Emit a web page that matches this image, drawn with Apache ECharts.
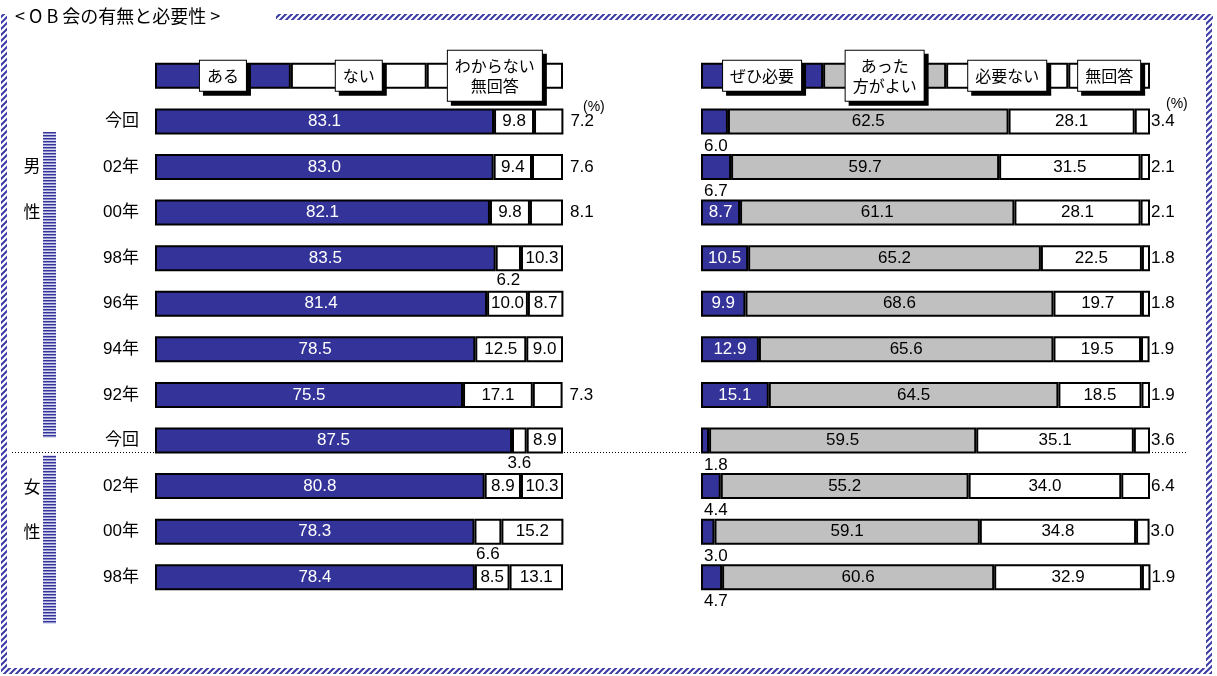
<!DOCTYPE html>
<html>
<head>
<meta charset="utf-8">
<script src="https://cdn.jsdelivr.net/npm/echarts@6/dist/echarts.min.js"></script>
<style>
html, body { margin: 0; padding: 0; background: #fff; }
#main { width: 1217px; height: 676px; }
</style>
</head>
<body>
<div id="main"></div>
<script>
// 行ラベル（先頭の空欄は凡例の行）
var rows = ['', '今回', '02年', '00年', '98年', '96年', '94年', '92年', '今回', '02年', '00年', '98年'];

// OB会の有無（左）
var aru       = [83.1, 83.0, 82.1, 83.5, 81.4, 78.5, 75.5, 87.5, 80.8, 78.3, 78.4];
var nai       = [9.8, 9.4, 9.8, 6.2, 10.0, 12.5, 17.1, 3.6, 8.9, 6.6, 8.5];
var wakaranai = [7.2, 7.6, 8.1, 10.3, 8.7, 9.0, 7.3, 8.9, 10.3, 15.2, 13.1];

// 必要性（右）
var zehi       = [6.0, 6.7, 8.7, 10.5, 9.9, 12.9, 15.1, 1.8, 4.4, 3.0, 4.7];
var attaho     = [62.5, 59.7, 61.1, 65.2, 68.6, 65.6, 64.5, 59.5, 55.2, 59.1, 60.6];
var hitsuyonai = [28.1, 31.5, 28.1, 22.5, 19.7, 19.5, 18.5, 35.1, 34.0, 34.8, 32.9];
var mukaito    = [3.4, 2.1, 2.1, 1.8, 1.8, 1.9, 1.9, 3.6, 6.4, 3.0, 1.9];

// 凡例
var legendL = ['ある', 'ない', 'わからない\n無回答'];
var legendLShare = [33.3, 33.3, 33.4];
var legendR = ['ぜひ必要', 'あった\n方がよい', '必要ない', '無回答'];
var legendRShare = [27.2, 27.4, 27.2, 18.2];

var CJK = '"Noto Sans CJK JP", sans-serif';
var NUM = '"Liberation Sans", Arial, "Noto Sans CJK JP", sans-serif';
var BLUE = '#333399', GRAY = '#c0c0c0';

function hatch() {
    var c = document.createElement('canvas');
    c.width = 6; c.height = 6;
    var g = c.getContext('2d');
    g.fillStyle = '#fff'; g.fillRect(0, 0, 6, 6);
    g.strokeStyle = '#3a3aa6'; g.lineWidth = 2;
    g.beginPath();
    g.moveTo(-1, 7); g.lineTo(7, -1);
    g.moveTo(-1, 1); g.lineTo(1, -1);
    g.moveTo(5, 7); g.lineTo(7, 5);
    g.stroke();
    return c;
}
function stripes() {
    var c = document.createElement('canvas');
    c.width = 4; c.height = 3;
    var g = c.getContext('2d');
    g.fillStyle = BLUE; g.fillRect(0, 0, 4, 1);
    g.fillStyle = '#8c8cc8'; g.fillRect(0, 1, 4, 1);
    g.fillStyle = '#dcdcf0'; g.fillRect(0, 2, 4, 1);
    return c;
}

function buildSeries(gi, parts, colors, textColors, names, shares, rightGap) {
    return parts.map(function (vals, k) {
        var last = k === parts.length - 1;
        var data = [{
            value: shares[k],
            label: {
                show: true, position: 'inside', formatter: names[k],
                color: '#000', fontFamily: CJK, fontSize: 16, lineHeight: 20,
                backgroundColor: '#fff', borderColor: '#000', borderWidth: 1,
                padding: [5, 7], shadowColor: '#000', shadowBlur: 0,
                shadowOffsetX: 4, shadowOffsetY: 4
            }
        }].concat(vals.map(function (v) {
            var lab = { show: true, color: textColors[k] };
            if (v < 8.3) {
                lab.color = '#000';
                if (last) { lab.position = 'right'; lab.distance = rightGap; }
                else if (k === 0) { lab.position = [3, '100%']; lab.align = 'left'; lab.verticalAlign = 'top'; lab.offset = [0, 3]; }
                else { lab.position = 'bottom'; lab.distance = 1; }
            } else {
                lab.position = 'inside';
            }
            return { value: v, label: lab };
        }));
        return {
            type: 'bar', stack: 's' + gi, xAxisIndex: gi, yAxisIndex: gi,
            barWidth: 26, clip: false,
            itemStyle: { color: colors[k], borderColor: '#000', borderWidth: 2 },
            label: {
                fontFamily: NUM, fontSize: 17,
                formatter: function (p) { return Number(p.value).toFixed(1); }
            },
            emphasis: { disabled: true },
            data: data
        };
    });
}

var myChart = echarts.init(document.getElementById('main'));
var hatchImg = hatch(), stripeImg = stripes();

var option = {
    animation: false,
    grid: [
        { left: 155, width: 408, top: 53, height: 547 },
        { left: 701, width: 449, top: 53, height: 547 }
    ],
    xAxis: [
        { gridIndex: 0, type: 'value', min: 0, max: 100, show: false },
        { gridIndex: 1, type: 'value', min: 0, max: 100, show: false }
    ],
    yAxis: [
        {
            gridIndex: 0, type: 'category', inverse: true, data: rows,
            axisLine: { show: false }, axisTick: { show: false },
            axisLabel: { margin: 16, color: '#000', fontSize: 17, fontFamily: NUM }
        },
        {
            gridIndex: 1, type: 'category', inverse: true, data: rows,
            axisLine: { show: false }, axisTick: { show: false }, axisLabel: { show: false }
        }
    ],
    graphic: [
        // 枠
        { type: 'rect', silent: true, shape: { x: 276, y: 14, width: 937, height: 6 }, style: { fill: { image: hatchImg, repeat: 'repeat' } } },
        { type: 'rect', silent: true, shape: { x: 1, y: 14, width: 6, height: 660 }, style: { fill: { image: hatchImg, repeat: 'repeat' } } },
        { type: 'rect', silent: true, shape: { x: 1206, y: 14, width: 6, height: 660 }, style: { fill: { image: hatchImg, repeat: 'repeat' } } },
        { type: 'rect', silent: true, shape: { x: 1, y: 668, width: 1211, height: 6 }, style: { fill: { image: hatchImg, repeat: 'repeat' } } },
        // タイトル
        { type: 'text', silent: true, style: { text: '< O B 会の有無と必要性 >', x: 15, y: 16, verticalAlign: 'middle', font: '18px "Noto Sans CJK JP"', fill: '#000' } },
        // 単位
        { type: 'text', silent: true, style: { text: '(%)', x: 583, y: 107, verticalAlign: 'middle', font: '14px "Liberation Sans"', fill: '#000' } },
        { type: 'text', silent: true, style: { text: '(%)', x: 1166, y: 104, verticalAlign: 'middle', font: '14px "Liberation Sans"', fill: '#000' } },
        // 男性・女性
        { type: 'rect', silent: true, shape: { x: 43, y: 132, width: 13, height: 306 }, style: { fill: { image: stripeImg, repeat: 'repeat' } } },
        { type: 'rect', silent: true, shape: { x: 43, y: 455, width: 13, height: 169 }, style: { fill: { image: stripeImg, repeat: 'repeat' } } },
        { type: 'text', silent: true, style: { text: '男', x: 32, y: 166, align: 'center', verticalAlign: 'middle', font: '17px "Noto Sans CJK JP"', fill: '#000' } },
        { type: 'text', silent: true, style: { text: '性', x: 32, y: 212, align: 'center', verticalAlign: 'middle', font: '17px "Noto Sans CJK JP"', fill: '#000' } },
        { type: 'text', silent: true, style: { text: '女', x: 32, y: 487, align: 'center', verticalAlign: 'middle', font: '17px "Noto Sans CJK JP"', fill: '#000' } },
        { type: 'text', silent: true, style: { text: '性', x: 32, y: 532, align: 'center', verticalAlign: 'middle', font: '17px "Noto Sans CJK JP"', fill: '#000' } },
        // 区切り線
        { type: 'line', silent: true, z: -1, shape: { x1: 12, y1: 452.5, x2: 1186, y2: 452.5 }, style: { stroke: '#000', lineWidth: 1, lineDash: [1, 2] } }
    ],
    series: buildSeries(0, [aru, nai, wakaranai], [BLUE, '#fff', '#fff'], ['#fff', '#000', '#000'], legendL, legendLShare, 7)
        .concat(buildSeries(1, [zehi, attaho, hitsuyonai, mukaito], [BLUE, GRAY, '#fff', '#fff'], ['#fff', '#000', '#000', '#000'], legendR, legendRShare, 1))
};
myChart.setOption(option);
</script>
</body>
</html>
